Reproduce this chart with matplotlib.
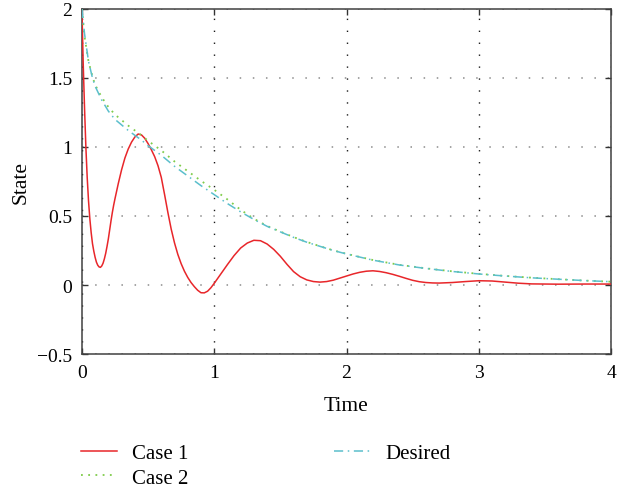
import matplotlib
matplotlib.use("Agg")
import matplotlib.pyplot as plt

plt.rcParams['font.family'] = ['Liberation Serif', 'DejaVu Serif']

t_case1 = [0.00, 0.01, 0.02, 0.03, 0.04, 0.05, 0.06, 0.07, 0.08, 0.09, 0.10, 0.11, 0.12, 0.13,
           0.14, 0.15, 0.16, 0.17, 0.18, 0.19, 0.20, 0.21, 0.22, 0.23, 0.24, 0.25, 0.275,
           0.30, 0.325, 0.35, 0.375, 0.40, 0.425, 0.45, 0.475, 0.50, 0.525, 0.55, 0.575,
           0.60, 0.625, 0.65, 0.675, 0.70, 0.725, 0.75, 0.775, 0.80, 0.825, 0.85, 0.875,
           0.90, 0.925, 0.95, 0.975, 1.00, 1.025, 1.05, 1.075, 1.10, 1.15, 1.20, 1.25, 1.30,
           1.35, 1.40, 1.45, 1.50, 1.55, 1.60, 1.65, 1.70, 1.75, 1.80, 1.85, 1.90, 1.95,
           2.00, 2.05, 2.10, 2.15, 2.20, 2.25, 2.30, 2.35, 2.40, 2.45, 2.50, 2.55, 2.60,
           2.65, 2.70, 2.80, 2.90, 3.00, 3.10, 3.20, 3.30, 3.40, 3.60, 3.80, 4.00]
case1 = [2.00, 1.60, 1.28, 1.00, 0.78, 0.61, 0.48, 0.38, 0.30, 0.245, 0.20, 0.165, 0.143, 0.131,
         0.128, 0.138, 0.158, 0.19, 0.23, 0.28, 0.335, 0.40, 0.465, 0.525, 0.578, 0.625, 0.735,
         0.835, 0.92, 0.985, 1.035, 1.072, 1.094, 1.088, 1.063, 1.025, 0.98, 0.93, 0.865,
         0.78, 0.655, 0.525, 0.405, 0.305, 0.222, 0.155, 0.10, 0.055, 0.018, -0.012, -0.038,
         -0.056, -0.057, -0.045, -0.02, 0.012, 0.046, 0.08, 0.114, 0.148, 0.213, 0.268, 0.304, 0.324,
         0.321, 0.297, 0.258, 0.208, 0.15, 0.097, 0.06, 0.037, 0.025, 0.021, 0.025, 0.035, 0.05,
         0.065, 0.08, 0.092, 0.100, 0.103, 0.098, 0.089, 0.077, 0.063, 0.048, 0.034, 0.024, 0.018,
         0.015, 0.014, 0.018, 0.025, 0.031, 0.029, 0.021, 0.013, 0.008, 0.006, 0.007, 0.007]

t_case2 = [0.00, 0.02, 0.05, 0.08, 0.10, 0.15, 0.20, 0.25, 0.30, 0.35, 0.40, 0.45, 0.50, 0.60,
           0.70, 0.80, 0.90, 1.00, 1.10, 1.20, 1.30, 1.40, 1.50, 1.60, 1.70, 1.80, 1.90,
           2.00, 2.20, 2.40, 2.60, 2.80, 3.00, 3.20, 3.40, 3.60, 3.80, 4.00]
case2 = [2.00, 1.80, 1.62, 1.51, 1.45, 1.36, 1.29, 1.235, 1.195, 1.155, 1.12, 1.085, 1.045, 0.975,
         0.895, 0.825, 0.755, 0.69, 0.62, 0.545, 0.48, 0.428, 0.387, 0.347, 0.312, 0.281, 0.251,
         0.226, 0.181, 0.146, 0.121, 0.099, 0.081, 0.066, 0.053, 0.042, 0.032, 0.024]

t_desired = [0.00, 0.02, 0.05, 0.08, 0.10, 0.15, 0.20, 0.25, 0.30, 0.35, 0.40, 0.45, 0.50, 0.60,
             0.70, 0.80, 0.90, 1.00, 1.10, 1.20, 1.30, 1.40, 1.50, 1.60, 1.70, 1.80, 1.90,
             2.00, 2.20, 2.40, 2.60, 2.80, 3.00, 3.20, 3.40, 3.60, 3.80, 4.00]
desired = [2.00, 1.82, 1.62, 1.50, 1.44, 1.34, 1.26, 1.20, 1.16, 1.12, 1.085, 1.05, 1.01, 0.94,
           0.86, 0.79, 0.72, 0.655, 0.59, 0.53, 0.475, 0.425, 0.385, 0.345, 0.31, 0.28, 0.25,
           0.225, 0.18, 0.145, 0.12, 0.098, 0.08, 0.065, 0.052, 0.042, 0.032, 0.024]

x_ticks = [0, 1, 2, 3, 4]
y_ticks = [-0.5, 0, 0.5, 1, 1.5, 2]
y_tick_labels = ['\u22120.5', '0', '0.5', '1', '1.5', '2']

fig = plt.figure(figsize=(6.3, 4.89), dpi=100)
ax = fig.add_axes([0.130, 0.274, 0.840, 0.7056])

l1, = ax.plot(t_case1, case1, color='#e8262a', lw=1.1, label='Case 1', zorder=3)
l2, = ax.plot(t_case2, case2, color='#7fcc4a', lw=1.3, ls=(0, (1, 3)), label='Case 2', zorder=3)
l3, = ax.plot(t_desired, desired, color='#5bbfcc', lw=1.1, ls=(0, (6, 3, 1, 3)), label='Desired', zorder=3)

ax.set_xlim(0, 4)
ax.set_ylim(-0.5, 2)
ax.set_xticks(x_ticks)
ax.set_yticks(y_ticks)
ax.set_yticklabels(y_tick_labels)
ax.xaxis.grid(True, color='0.1', ls=(0, (1, 7.6)), lw=1.0)
ax.yaxis.grid(True, color='0.55', ls=(0, (1, 7.6)), lw=1.1)
ax.tick_params(direction='in', top=True, right=True, length=4, width=1.0,
               labelsize=14, pad=7, color='0.2')
for s in ax.spines.values():
    s.set_linewidth(1.1)
    s.set_color('0.25')
ax.set_xlabel('Time', fontsize=15.5, labelpad=11)
ax.set_ylabel('State', fontsize=15.5, labelpad=4.5)

fig.legend(handles=[l1, l2, l3], loc='upper left', bbox_to_anchor=(0.109, 0.116),
           ncol=2, frameon=False, fontsize=15, handlelength=1.73, handletextpad=0.72,
           columnspacing=7.0, labelspacing=0.22, borderpad=0.1)

fig.savefig('out.png', dpi=100)
